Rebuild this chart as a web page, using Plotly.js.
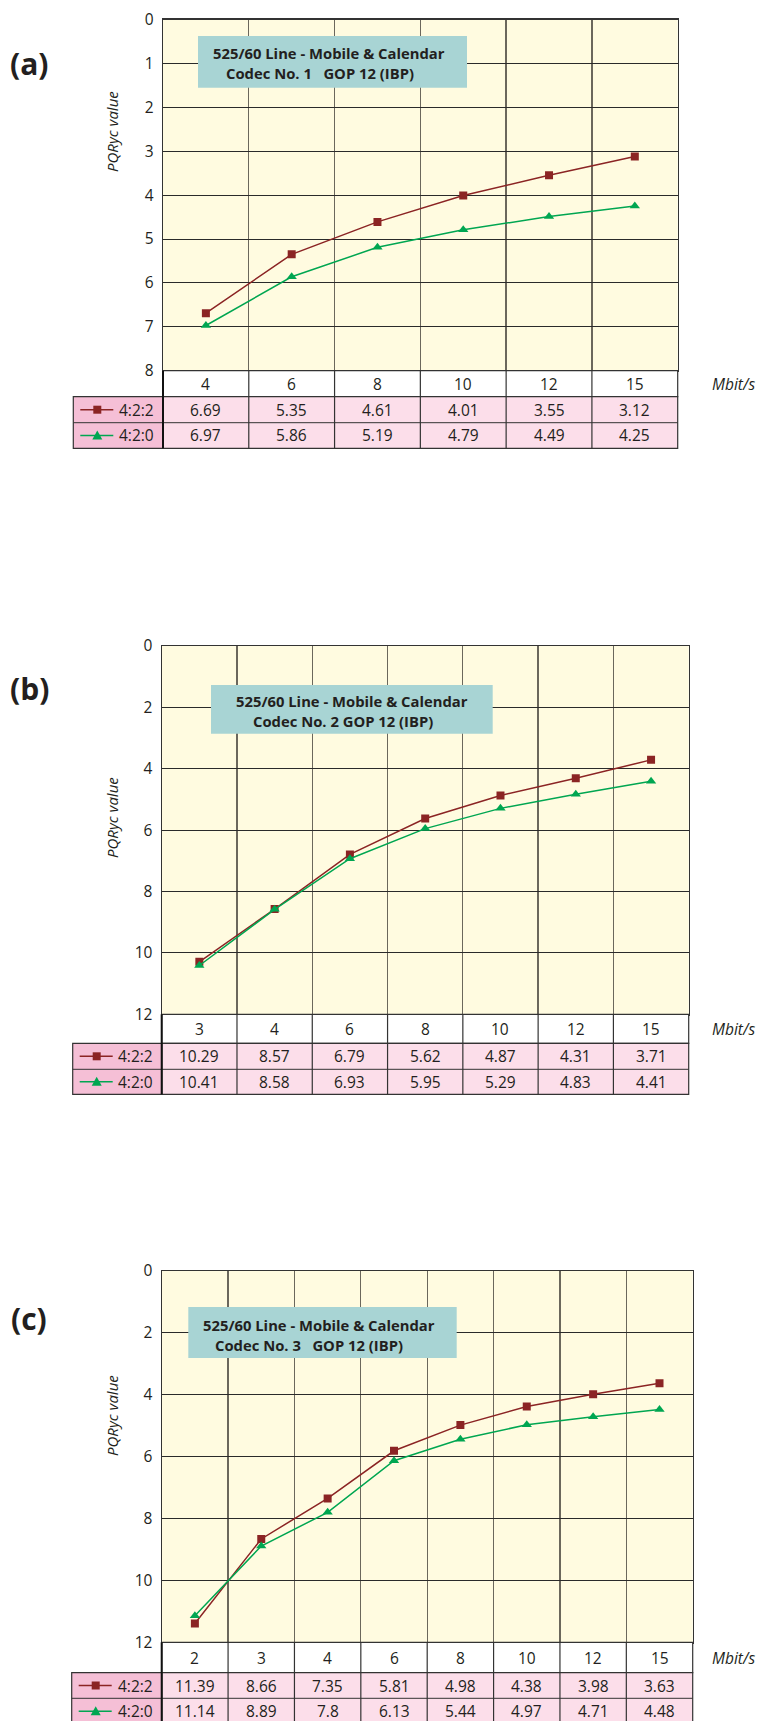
<!DOCTYPE html>
<html>
<head>
<meta charset="utf-8">
<script src="https://cdn.plot.ly/plotly-3.0.1.min.js"></script>
<style>html,body{margin:0;padding:0;background:#fff;}#chart{width:775px;height:1721px;}</style>
</head>
<body>
<div id="chart"></div>
<script>
// ---------- data ----------
const ratesA = ['4', '6', '8', '10', '12', '15'];
const a422 = [6.69, 5.35, 4.61, 4.01, 3.55, 3.12];
const a420 = [6.97, 5.86, 5.19, 4.79, 4.49, 4.25];

const ratesB = ['3', '4', '6', '8', '10', '12', '15'];
const b422 = [10.29, 8.57, 6.79, 5.62, 4.87, 4.31, 3.71];
const b420 = [10.41, 8.58, 6.93, 5.95, 5.29, 4.83, 4.41];

const ratesC = ['2', '3', '4', '6', '8', '10', '12', '15'];
const c422 = [11.39, 8.66, 7.35, 5.81, 4.98, 4.38, 3.98, 3.63];
const c420 = [11.14, 8.89, 7.8, 6.13, 5.44, 4.97, 4.71, 4.48];

const seriesNames = ['4:2:2', '4:2:0'];
const panelTags = ['(a)', '(b)', '(c)'];
const titleLine1 = '525/60 Line - Mobile & Calendar';
const titleLine2 = ['Codec No. 1\u00a0\u00a0\u00a0GOP 12 (IBP)', 'Codec No. 2 GOP 12 (IBP)', 'Codec No. 3\u00a0\u00a0\u00a0GOP 12 (IBP)'];
const yTitle = 'PQRyc value';
const xUnit = 'Mbit/s';

// ---------- layout geometry (pixels) ----------
const W = 775, H = 1721;
const X = p => p / W;
const Y = p => 1 - p / H;

const panels = [
  {cats: ratesA, s: [a422, a420], ymax: 8, dtick: 1,
   L: 163, R: 677.7, T: 19.5, B: 370.7, rows: [396.7, 422.7, 448.3], legL: 73.3,
   box: [198, 467, 36, 87.7], t1: [329, 53], t2: [320, 73], tag: [29, 63], yl: [112, 132]},
  {cats: ratesB, s: [b422, b420], ymax: 12, dtick: 2,
   L: 161.7, R: 688.7, T: 646, B: 1014.3, rows: [1043.3, 1069.3, 1094.3], legL: 72.7,
   box: [211, 492.7, 685, 733.7], t1: [351.7, 701], t2: [342.7, 721], tag: [29, 688], yl: [112, 818]},
  {cats: ratesC, s: [c422, c420], ymax: 12, dtick: 2,
   L: 161.7, R: 692.7, T: 1271, B: 1642.3, rows: [1672.7, 1698.3, 1724], legL: 71.7,
   box: [188.3, 456.7, 1307, 1358], t1: [318.8, 1325], t2: [309.3, 1345], tag: [29, 1318], yl: [112, 1416]}
];

const FONT = 'Open Sans, Noto Sans, sans-serif';
const TXT = '#231f20';
const colors = ['#8b2424', '#00a651'];
const symbols = ['square', 'triangle-up'];
const plotBg = '#fffbe0';
const cellPink = '#fcdeea';
const legPink = '#f5bfd6';
const border = '#333333';

const data = [];
const shapes = [];
const annotations = [];
const layout = {
  width: W, height: H,
  margin: {l: 0, r: 0, t: 0, b: 0, pad: 0},
  paper_bgcolor: '#ffffff',
  plot_bgcolor: plotBg,
  showlegend: false,
  font: {family: FONT, color: TXT, size: 15}
};

panels.forEach((p, k) => {
  const sfx = k === 0 ? '' : String(k + 1);
  const xa = 'x' + sfx, ya = 'y' + sfx;
  const n = p.cats.length;
  const cw = (p.R - p.L) / n;

  layout['xaxis' + sfx] = {
    domain: [X(p.L), X(p.R)], anchor: ya,
    type: 'category', categoryorder: 'array', categoryarray: p.cats,
    range: [-0.5, n - 0.5], tickson: 'boundaries',
    showgrid: true, gridcolor: '#6b675c', gridwidth: 1.3,
    showticklabels: false, ticks: '',
    showline: true, linecolor: border, linewidth: 1.2, mirror: true,
    zeroline: false, fixedrange: true
  };
  layout['yaxis' + sfx] = {
    domain: [Y(p.B), Y(p.T)], anchor: xa,
    range: [p.ymax, 0], tick0: 0, dtick: p.dtick,
    showgrid: true, gridcolor: '#2a2a2a', gridwidth: 1,
    ticks: '', ticklabelstandoff: 5,
    tickfont: {family: FONT, size: 15.5, color: TXT},
    showline: true, linecolor: border, linewidth: 1.2, mirror: true,
    zeroline: false, fixedrange: true
  };

  // series lines
  p.s.forEach((vals, j) => {
    data.push({
      type: 'scatter', mode: 'lines+markers',
      x: p.cats, y: vals, xaxis: xa, yaxis: ya,
      name: seriesNames[j],
      line: {color: colors[j], width: 1.5},
      marker: {symbol: symbols[j], size: j === 0 ? 8 : 9, color: colors[j]},
      hoverinfo: 'skip'
    });
  });

  // title box
  shapes.push({type: 'rect', xref: 'paper', yref: 'paper',
    x0: X(p.box[0]), x1: X(p.box[1]), y0: Y(p.box[3]), y1: Y(p.box[2]),
    fillcolor: '#a8d4d4', line: {width: 0}, layer: 'above'});
  annotations.push({xref: 'paper', yref: 'paper', x: X(p.t1[0]), y: Y(p.t1[1]),
    xanchor: 'center', yanchor: 'middle', showarrow: false,
    text: '<b>' + titleLine1.replace('&', '&amp;') + '</b>', font: {size: 14.8, color: TXT}});
  annotations.push({xref: 'paper', yref: 'paper', x: X(p.t2[0]), y: Y(p.t2[1]),
    xanchor: 'center', yanchor: 'middle', showarrow: false,
    text: '<b>' + titleLine2[k] + '</b>', font: {size: 14.8, color: TXT}});

  // panel tag
  annotations.push({xref: 'paper', yref: 'paper', x: X(p.tag[0]), y: Y(p.tag[1]),
    xanchor: 'center', yanchor: 'middle', showarrow: false,
    text: '<b>' + panelTags[k] + '</b>', font: {size: 30, color: TXT}});
  // y title
  annotations.push({xref: 'paper', yref: 'paper', x: X(p.yl[0]), y: Y(p.yl[1]),
    xanchor: 'center', yanchor: 'middle', showarrow: false, textangle: -90,
    text: '<i>' + yTitle + '</i>', font: {size: 15, color: TXT}});

  // ---------- table ----------
  const r0 = p.B, r1 = p.rows[0], r2 = p.rows[1], r3 = p.rows[2];
  shapes.push({type: 'rect', xref: 'paper', yref: 'paper',
    x0: X(p.L), x1: X(p.R), y0: Y(r1), y1: Y(r0),
    fillcolor: '#ffffff', line: {color: border, width: 1.2}});
  shapes.push({type: 'rect', xref: 'paper', yref: 'paper',
    x0: X(p.L), x1: X(p.R), y0: Y(r3), y1: Y(r1),
    fillcolor: cellPink, line: {color: border, width: 1.2}});
  shapes.push({type: 'rect', xref: 'paper', yref: 'paper',
    x0: X(p.legL), x1: X(p.L), y0: Y(r3), y1: Y(r1),
    fillcolor: legPink, line: {color: border, width: 1.2}});
  shapes.push({type: 'line', xref: 'paper', yref: 'paper',
    x0: X(p.legL), x1: X(p.R), y0: Y(r2), y1: Y(r2), line: {color: border, width: 1}});
  shapes.push({type: 'line', xref: 'paper', yref: 'paper',
    x0: X(p.L), x1: X(p.L), y0: Y(r3), y1: Y(r0), line: {color: '#111', width: 2}});
  for (let i = 1; i < n; i++) {
    const xx = X(p.L + i * cw);
    shapes.push({type: 'line', xref: 'paper', yref: 'paper',
      x0: xx, x1: xx, y0: Y(r3), y1: Y(r0), line: {color: border, width: 1.2}});
  }

  const rowMid = [(r0 + r1) / 2, (r1 + r2) / 2, (r2 + r3) / 2];
  // tick labels row (category index positions on the category axis)
  p.cats.forEach((c, i) => {
    annotations.push({xref: xa, yref: 'paper', x: i, y: Y(rowMid[0]),
      xanchor: 'center', yanchor: 'middle', showarrow: false,
      text: c, font: {size: 15.5, color: TXT}});
  });
  annotations.push({xref: 'paper', yref: 'paper', x: X(733), y: Y(rowMid[0]),
    xanchor: 'center', yanchor: 'middle', showarrow: false,
    text: '<i>' + xUnit + '</i>', font: {size: 15.5, color: TXT}});

  // series rows
  p.s.forEach((vals, j) => {
    const ym = rowMid[j + 1];
    vals.forEach((v, i) => {
      annotations.push({xref: xa, yref: 'paper', x: i, y: Y(ym),
        xanchor: 'center', yanchor: 'middle', showarrow: false,
        text: String(v), font: {size: 15.5, color: TXT}});
    });
    annotations.push({xref: 'paper', yref: 'paper', x: X(p.L - 7), y: Y(ym),
      xanchor: 'right', yanchor: 'middle', showarrow: false,
      text: seriesNames[j], font: {size: 15.5, color: TXT}});
    // legend glyph
    shapes.push({type: 'line', xref: 'paper', yref: 'paper',
      x0: X(p.legL + 7), x1: X(p.legL + 40), y0: Y(ym), y1: Y(ym),
      line: {color: colors[j], width: 1.5}});
    const cx = p.legL + 24;
    if (j === 0) {
      shapes.push({type: 'rect', xref: 'paper', yref: 'paper',
        x0: X(cx - 4), x1: X(cx + 4), y0: Y(ym + 4), y1: Y(ym - 4),
        fillcolor: colors[j], line: {width: 0}});
    } else {
      const path = 'M' + X(cx - 5) + ',' + Y(ym + 4) + ' L' + X(cx + 5) + ',' + Y(ym + 4) +
                   ' L' + X(cx) + ',' + Y(ym - 5) + ' Z';
      shapes.push({type: 'path', xref: 'paper', yref: 'paper', path: path,
        fillcolor: colors[j], line: {width: 0}});
    }
  });
});

layout.shapes = shapes;
layout.annotations = annotations;

Plotly.newPlot('chart', data, layout, {displayModeBar: false, staticPlot: true});
</script>
</body>
</html>
